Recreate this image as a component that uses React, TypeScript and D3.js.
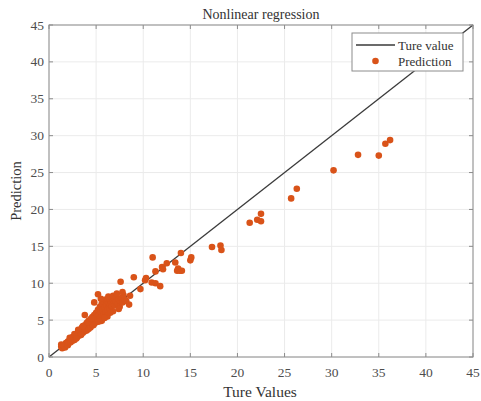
import React from "react";
import * as d3 from "d3";

const xTicks = [0, 5, 10, 15, 20, 25, 30, 35, 40, 45];
const yTicks = [0, 5, 10, 15, 20, 25, 30, 35, 40, 45];
const trueLine = [0, 45];

const predTrue = [
  1.3, 1.4, 1.5, 1.6, 1.7, 1.8, 1.9, 2.0, 2.0, 2.1, 2.2, 2.3, 2.4, 2.5, 2.5, 2.6, 2.7, 2.8, 2.9, 3.0,
  3.0, 3.1, 3.2, 3.3, 3.3, 3.4, 3.5, 3.5, 3.6, 3.7, 3.8, 3.8, 3.9, 4.0, 4.0, 4.1, 4.2, 4.2, 4.3, 4.4,
  4.4, 4.5, 4.6, 4.6, 4.7, 4.8, 4.8, 4.9, 5.0, 5.0, 5.1, 5.2, 5.2, 5.3, 5.4, 5.4, 5.5, 5.6, 5.6, 5.7,
  5.8, 5.8, 5.9, 6.0, 6.0, 6.1, 6.2, 6.2, 6.3, 6.4, 6.5, 6.5, 6.6, 6.7, 6.8, 6.9, 7.0, 7.0, 7.1, 7.2,
  7.3, 7.4, 7.5, 7.6, 7.7, 7.8, 8.0, 8.2, 1.3, 5.6, 6.2, 6.8, 7.4, 6.5, 5.9, 4.8, 5.5, 6.3, 6.8, 7.2,
  5.2, 3.8, 7.6, 7.9, 8.5, 8.6, 7.8, 9.0, 9.7, 10.2, 10.3, 10.9, 11.3, 11.8, 11.3, 11.0, 12.0, 12.1, 12.5, 13.4,
  13.6, 13.9, 14.1, 13.7, 14.0, 15.0, 15.1, 17.3, 18.2, 18.3, 21.3, 22.1, 22.5, 22.5, 25.7, 26.3, 30.2, 32.8, 35.0, 35.7,
  36.2, 2.2, 2.7, 3.1, 3.6, 4.1, 4.5, 3.4, 2.9, 4.7, 5.3,
];
const predValue = [
  1.4, 1.2, 1.6, 1.5, 1.3, 1.9, 1.7, 1.6, 2.1, 1.9, 2.3, 2.0, 2.4, 2.2, 2.7, 2.5, 2.3, 2.9, 2.6, 3.1,
  2.7, 3.4, 2.9, 3.2, 3.7, 3.0, 3.5, 4.0, 3.3, 3.8, 3.5, 4.3, 3.9, 3.6, 4.6, 4.1, 3.8, 4.9, 4.4, 4.0,
  5.1, 4.6, 4.3, 5.4, 4.9, 4.5, 5.7, 5.1, 4.7, 6.0, 5.4, 5.0, 6.4, 5.7, 5.2, 6.8, 6.1, 5.5, 7.2, 6.4,
  5.8, 7.5, 6.7, 6.1, 7.8, 7.0, 6.4, 7.6, 7.2, 6.7, 7.8, 7.0, 7.4, 6.9, 7.7, 7.2, 7.9, 7.0, 7.5, 8.1,
  7.3, 7.8, 6.8, 7.6, 8.0, 7.4, 7.8, 7.6, 1.7, 4.9, 5.5, 6.2, 6.5, 6.0, 5.3, 7.4, 7.9, 8.2, 8.3, 8.6,
  8.5, 5.7, 10.2, 8.4, 7.1, 8.3, 8.8, 10.8, 9.2, 10.4, 10.7, 10.1, 10.0, 9.6, 11.6, 13.5, 12.2, 11.9, 12.7, 12.8,
  11.7, 11.7, 11.7, 12.0, 14.1, 13.1, 13.5, 14.9, 15.1, 14.5, 18.2, 18.6, 18.4, 19.4, 21.5, 22.8, 25.3, 27.4, 27.3, 28.9,
  29.4, 2.6, 3.1, 3.7, 4.2, 4.7, 5.2, 3.0, 2.5, 4.3, 4.8,
];

const W = 481;
const H = 401;
const L = 49, R = 473, T = 25, B = 357;
const FONT = "'Liberation Serif', 'Times New Roman', serif";

export default function App() {
  const x = d3.scaleLinear().domain([0, 45]).range([L, R]);
  const y = d3.scaleLinear().domain([0, 45]).range([B, T]);
  const line = d3.line<number>().x((d) => x(d)).y((d) => y(d));
  const axisCol = "#8c8c8c";
  const textCol = "#4d4d4d";
  const tl = 4;
  return (
    <svg width={W} height={H} style={{ position: "absolute", left: 0, top: 0, background: "#fff" }}>
      <rect x={0} y={0} width={W} height={H} fill="#fff" />
      {xTicks.map((t) => (
        <line key={"gx" + t} x1={x(t)} x2={x(t)} y1={T} y2={B} stroke="#ebebeb" strokeWidth={1} />
      ))}
      {yTicks.map((t) => (
        <line key={"gy" + t} x1={L} x2={R} y1={y(t)} y2={y(t)} stroke="#ebebeb" strokeWidth={1} />
      ))}
      <path d={line(trueLine) || ""} stroke="#3a3a3a" strokeWidth={1.3} fill="none" />
      {predTrue.map((v, i) => (
        <circle key={"p" + i} cx={x(v)} cy={y(predValue[i])} r={3.3} fill="#D95319" />
      ))}
      <rect x={L} y={T} width={R - L} height={B - T} fill="none" stroke={axisCol} strokeWidth={1} />
      {xTicks.map((t) => (
        <g key={"tx" + t}>
          <line x1={x(t)} x2={x(t)} y1={B} y2={B - tl} stroke={axisCol} />
          <line x1={x(t)} x2={x(t)} y1={T} y2={T + tl} stroke={axisCol} />
          <text x={x(t)} y={377} textAnchor="middle" fontFamily={FONT} fontSize={13.5} fill={textCol}>
            {t}
          </text>
        </g>
      ))}
      {yTicks.map((t) => (
        <g key={"ty" + t}>
          <line x1={L} x2={L + tl} y1={y(t)} y2={y(t)} stroke={axisCol} />
          <line x1={R} x2={R - tl} y1={y(t)} y2={y(t)} stroke={axisCol} />
          <text x={44} y={y(t) + 4.5} textAnchor="end" fontFamily={FONT} fontSize={13.5} fill={textCol}>
            {t}
          </text>
        </g>
      ))}
      <text x={261} y={19} textAnchor="middle" fontFamily={FONT} fontSize={14} fill="#333">
        Nonlinear regression
      </text>
      <text x={260} y={397} textAnchor="middle" fontFamily={FONT} fontSize={15.5} fill="#333">
        Ture Values
      </text>
      <text
        transform={`translate(21, ${(T + B) / 2}) rotate(-90)`}
        textAnchor="middle"
        fontFamily={FONT}
        fontSize={14.5}
        fill="#333"
      >
        Prediction
      </text>
      <g>
        <rect x={352} y={33} width={111} height={38} fill="#fff" stroke={axisCol} strokeWidth={1} />
        <line x1={356} x2={395} y1={45} y2={45} stroke="#3a3a3a" strokeWidth={1.3} />
        <text x={398} y={49.5} fontFamily={FONT} fontSize={13} fill="#333">
          Ture value
        </text>
        <circle cx={375.5} cy={61} r={3.3} fill="#D95319" />
        <text x={398} y={65.5} fontFamily={FONT} fontSize={13} fill="#333">
          Prediction
        </text>
      </g>
    </svg>
  );
}
